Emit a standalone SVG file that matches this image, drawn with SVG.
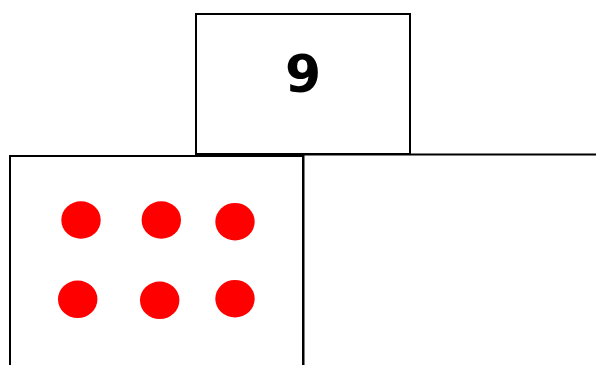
<svg xmlns="http://www.w3.org/2000/svg" width="596" height="365" viewBox="0 0 596 365">
<style>
.box{fill:#fff;stroke:#000;stroke-width:2}
.dot{fill:#ff0000}
.lbl{font-family:"DejaVu Sans",sans-serif;font-weight:bold;font-size:52px;text-anchor:middle}
</style>
<rect width="596" height="365" fill="#fff"/>
<g id="right-box"><rect class="box" x="303.5" y="154.5" width="300" height="220"/></g>
<g id="top-box"><rect class="box" x="196" y="14" width="214" height="140"/>
<text class="lbl" x="303" y="92">9</text></g>
<g id="left-box"><rect class="box" x="10" y="156" width="293" height="220"/>
<ellipse class="dot" cx="81" cy="220" rx="19.7" ry="18.8"/>
<ellipse class="dot" cx="161.3" cy="220" rx="19.7" ry="18.8"/>
<ellipse class="dot" cx="235" cy="221.7" rx="19.7" ry="18.8"/>
<ellipse class="dot" cx="77.7" cy="299.3" rx="19.7" ry="18.8"/>
<ellipse class="dot" cx="159.7" cy="300.3" rx="19.7" ry="18.8"/>
<ellipse class="dot" cx="235" cy="298.7" rx="19.7" ry="18.8"/>
</g>
<g id="connectors"></g>
</svg>
